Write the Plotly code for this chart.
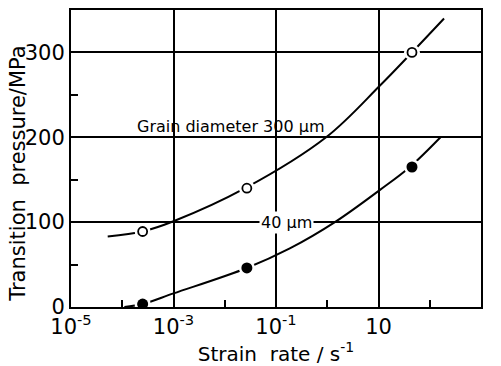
import plotly.graph_objects as go

# Measured points (strain rate in s^-1, transition pressure in MPa)
rate_points = [2.5e-4, 0.027, 45]
p_300um = [89, 140, 300]
p_40um = [3.5, 46, 165]

# Fitted curves
curve_300_x = [5.2e-5, 2.5e-4, 1e-3, 0.025, 0.95, 10.7, 45, 190]
curve_300_y = [83, 89, 101, 140, 200, 261, 300, 340]
curve_40_x = [1.1e-4, 2.5e-4, 1e-3, 0.027, 0.186, 1.41, 10.7, 41, 162]
curve_40_y = [0, 3.5, 16, 46, 69, 100, 138, 165, 200]

x_tickvals = [1e-5, 1e-3, 1e-1, 10, 1000]
x_ticktext = ["10<sup>-5</sup>", "10<sup>-3</sup>", "10<sup>-1</sup>", "10", "10<sup>-3</sup>"]
x_minor = [1e-4, 1e-2, 1, 100]
y_tickvals = [0, 100, 200, 300]
y_minor = [50, 150, 250]

FONT = "DejaVu Sans"
NB = "\u00a0"

fig = go.Figure()
# white halo for the "40 µm" label (drawn under the curves)
fig.add_annotation(x=-0.79, y=100, xref="x", yref="y", text="40 µm", showarrow=False,
                   yanchor="middle", bgcolor="white", borderpad=1,
                   font=dict(family=FONT, size=16, color="black"))
for cx, cy in [(curve_300_x, curve_300_y), (curve_40_x, curve_40_y)]:
    fig.add_trace(go.Scatter(x=cx, y=cy, mode="lines",
                             line=dict(color="black", width=2, shape="spline", smoothing=1.0),
                             showlegend=False, hoverinfo="skip"))
# white halos create the small gaps around the markers
for py in [p_300um, p_40um]:
    fig.add_trace(go.Scatter(x=rate_points, y=py, mode="markers",
                             marker=dict(size=16, color="white", line=dict(width=0)), showlegend=False))
fig.add_trace(go.Scatter(x=rate_points, y=p_300um, mode="markers",
                         marker=dict(size=9, color="white", line=dict(color="black", width=1.8)), showlegend=False))
fig.add_trace(go.Scatter(x=rate_points, y=p_40um, mode="markers",
                         marker=dict(size=11, color="black", line=dict(width=0)), showlegend=False))

fig.add_annotation(x=-1.88, y=200, xref="x", yref="y", text="Grain diameter 300 µm", showarrow=False,
                   yanchor="bottom", yshift=-1, font=dict(family=FONT, size=16, color="black"))
# y-axis title (placed as in the reference, slightly below the plot centre)
fig.add_annotation(x=-0.129, y=0.449, xref="paper", yref="paper",
                   text="Transition" + NB + NB + "pressure/MPa", textangle=-90, showarrow=False,
                   xanchor="center", yanchor="middle", font=dict(family=FONT, size=21, color="black"))

fig.update_layout(
    width=501, height=366, margin=dict(l=71, r=20, t=10, b=59),
    plot_bgcolor="white", paper_bgcolor="white",
    font=dict(family=FONT, size=20, color="black"),
    xaxis=dict(type="log", range=[-5, 3], tickvals=x_tickvals, ticktext=x_ticktext,
               showgrid=True, gridcolor="black", gridwidth=1.5,
               showline=True, linecolor="black", linewidth=2, mirror=True,
               ticks="", zeroline=False, tickfont=dict(size=21), automargin=False,
               minor=dict(tickvals=x_minor, ticks="inside", ticklen=7, tickwidth=1.5,
                          tickcolor="black", showgrid=False),
               title=dict(text="Strain" + NB + NB + "rate / s<sup>-1</sup>", font=dict(size=20), standoff=2)),
    yaxis=dict(range=[0, 350], tickvals=y_tickvals, showgrid=True, gridcolor="black", gridwidth=1.5,
               showline=True, linecolor="black", linewidth=2, mirror=True,
               ticks="", zeroline=False, tickfont=dict(size=21), automargin=False,
               minor=dict(tickvals=y_minor, ticks="inside", ticklen=7, tickwidth=1.5,
                          tickcolor="black", showgrid=False)),
)
fig.write_html("out.html")
